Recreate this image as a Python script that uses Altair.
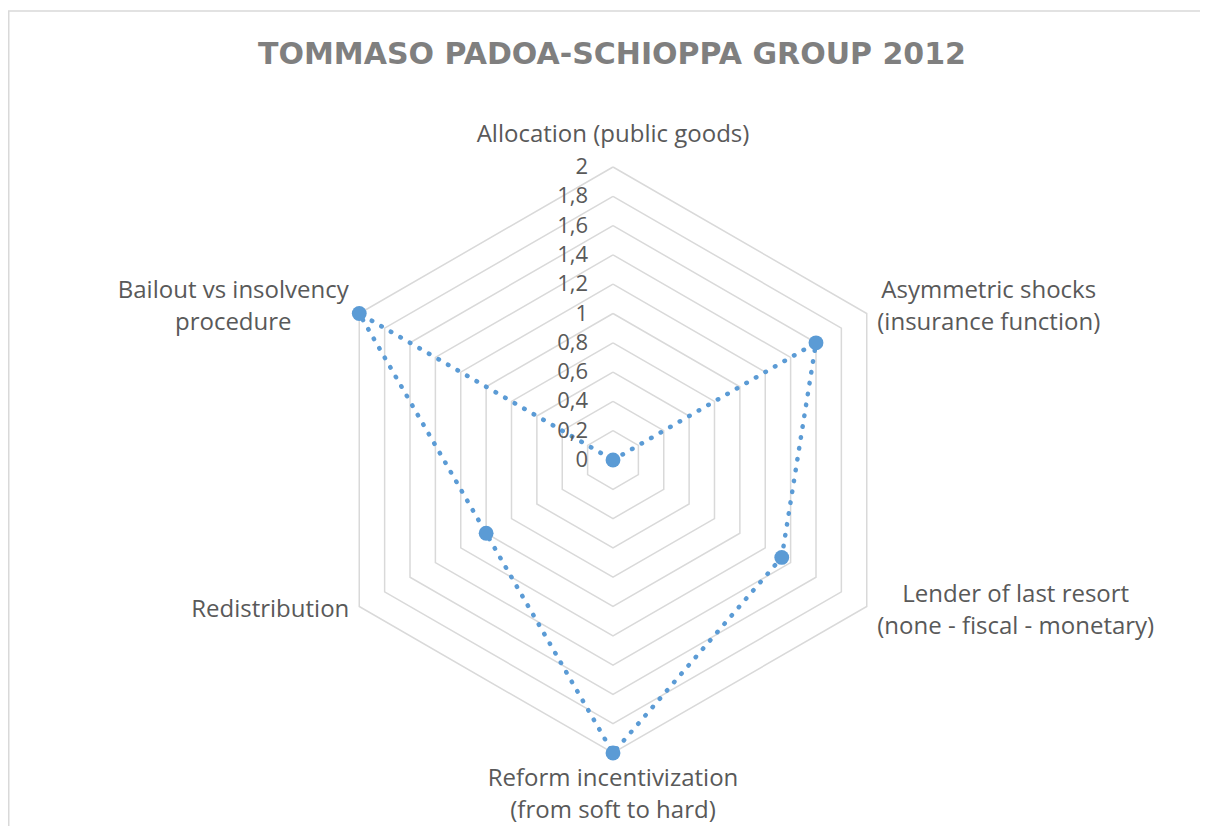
import altair as alt
import pandas as pd
import numpy as np

# ---- data ----
categories = [
    "Allocation (public goods)",
    "Asymmetric shocks\n(insurance function)",
    "Lender of last resort\n(none - fiscal - monetary)",
    "Reform incentivization\n(from soft to hard)",
    "Redistribution",
    "Bailout vs insolvency\nprocedure",
]
values = [0, 1.6, 1.33, 2, 1, 2]
tick_values = [0, 0.2, 0.4, 0.6, 0.8, 1.0, 1.2, 1.4, 1.6, 1.8, 2.0]
tick_labels = ["0", "0,2", "0,4", "0,6", "0,8", "1", "1,2", "1,4", "1,6", "1,8", "2"]
title_text = "TOMMASO PADOA-SCHIOPPA GROUP 2012"

# ---- layout / style ----
W, H = 1192, 818
CX, CY = 605, 452          # centre of the radar inside the plot area (px)
K = 146.5                  # px per unit
RMAX = 2
xdom = [-CX / K, (W - CX) / K]
ydom = [-(H - CY) / K, CY / K]
FONT = "Open Sans"
FS = 24
TXT = "#595959"
GRID = "#d9d9d9"
BLUE = "#5b9bd5"

n = len(categories)
ang = [2 * np.pi * i / n for i in range(n)]

# series (closed polygon)
ser = pd.DataFrame({
    "cat": categories + [categories[0]],
    "v": values + [values[0]],
    "a": ang + [ang[0]],
    "i": list(range(n + 1)),
})
ser["x"] = ser["v"] * np.sin(ser["a"])
ser["y"] = ser["v"] * np.cos(ser["a"])

# grid hexagons
grid_rows = []
for lv in tick_values[1:]:
    for j in range(n + 1):
        a = ang[j % n]
        grid_rows.append({"lv": lv, "j": j, "x": lv * np.sin(a), "y": lv * np.cos(a)})
grid = pd.DataFrame(grid_rows)

ticks = pd.DataFrame({"v": tick_values, "lab": tick_labels})
ticks["x"] = 0.0
ticks["y"] = ticks["v"]

labels = pd.DataFrame({"cat": categories, "a": ang})
labels["x"] = RMAX * np.sin(labels["a"])
labels["y"] = RMAX * np.cos(labels["a"])

xs = alt.Scale(domain=xdom, nice=False, zero=False)
ys = alt.Scale(domain=ydom, nice=False, zero=False)
X = lambda f="x": alt.X(f"{f}:Q", scale=xs, axis=None)
Y = lambda f="y": alt.Y(f"{f}:Q", scale=ys, axis=None)

grid_layer = alt.Chart(grid).mark_line(color=GRID, strokeWidth=1.5, clip=False).encode(
    x=X(), y=Y(), detail="lv:N", order="j:Q"
)

line_layer = alt.Chart(ser).mark_line(
    color=BLUE, strokeWidth=4.5, strokeDash=[0.5, 10.5], strokeCap="round"
).encode(x=X(), y=Y(), order="i:Q")

point_layer = alt.Chart(ser.iloc[:n]).mark_point(
    filled=True, size=220, color=BLUE, opacity=1, shape="circle"
).encode(x=X(), y=Y())

tick_layer = alt.Chart(ticks).mark_text(
    align="right", baseline="middle", dx=-25, font=FONT, fontSize=FS - 2, color=TXT
).encode(x=X(), y=Y(), text="lab:N")

# label offsets (px) of the first text line from the outer vertex
offsets = [(0, -32), (122, -23), (149, -12), (0, 26), (-89, 3.5), (-126, -23)]
label_layers = []
for i, (dx, dy) in enumerate(offsets):
    label_layers.append(
        alt.Chart(labels.iloc[[i]]).mark_text(
            align="center", baseline="middle", dx=dx, dy=dy, font=FONT, fontSize=FS,
            color=TXT, lineBreak="\n", lineHeight=32
        ).encode(x=X(), y=Y(), text="cat:N")
    )

title_layer = alt.Chart(pd.DataFrame({"t": [title_text]})).mark_text(
    align="center", baseline="middle", font="DejaVu Sans", fontWeight="bold",
    fontSize=30, color="#7f7f7f"
).encode(x=alt.value(604), y=alt.value(47), text="t:N")

border_top = alt.Chart(pd.DataFrame({"d": [0]})).mark_rule(color=GRID, strokeWidth=1.5).encode(
    x=alt.value(0), x2=alt.value(W), y=alt.value(3)
)
border_left = alt.Chart(pd.DataFrame({"d": [0]})).mark_rule(color=GRID, strokeWidth=1.5).encode(
    x=alt.value(0.75), y=alt.value(3), y2=alt.value(H)
)

chart = alt.layer(
    border_top, border_left, grid_layer, line_layer, point_layer, tick_layer,
    *label_layers, title_layer
).properties(
    width=W, height=H, padding=0,
    autosize=alt.AutoSizeParams(type="none"),
    background="white",
).configure_view(stroke=None)

chart.save("out.html", embed_options={"renderer": "svg", "actions": False})
